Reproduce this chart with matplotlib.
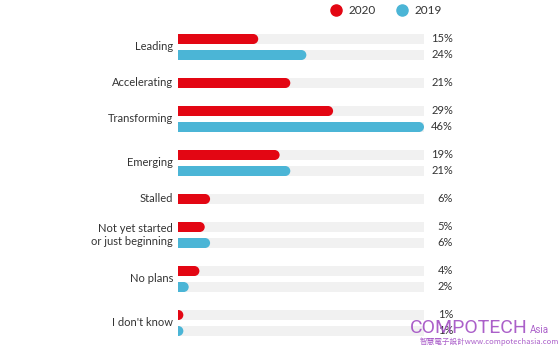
import matplotlib.pyplot as plt
from matplotlib.lines import Line2D
from matplotlib.patches import Ellipse

# data
categories = ['Leading', 'Accelerating', 'Transforming', 'Emerging', 'Stalled',
              'Not yet started\nor just beginning', 'No plans', "I don't know"]
vals_2020 = [15, 21, 29, 19, 6, 5, 4, 1]
vals_2019 = [24, None, 46, 21, None, 6, 2, 1]

RED = '#e30613'
BLUE = '#4bb5d6'
TRACK = '#f1f1f1'
TEXT = '#333333'
XMAX = 46

plt.rcParams['font.family'] = ['Lato', 'DejaVu Sans']

fig = plt.figure(figsize=(5.6, 3.5), dpi=100)
# axes covers the bar track; y in pixel units (top = 0)
ax = fig.add_axes([178 / 560, 0, 246 / 560, 1])
ax.set_xlim(0, XMAX)
ax.set_ylim(350, 0)
ax.axis('off')

px = XMAX / 246.0      # data units per pixel horizontally
H = 10                 # bar thickness in px
cap = H / 2 * px       # round end radius in data units

y = 39
for cat, v20, v19 in zip(categories, vals_2020, vals_2019):
    rows = [(v20, RED)]
    if v19 is not None:
        rows.append((v19, BLUE))
    ys = []
    for v, col in rows:
        ax.barh(y, XMAX, height=H, left=0, color=TRACK, zorder=1)
        end = max(v - cap, 0)
        ax.barh(y, end, height=H, left=0, color=col, zorder=2)
        ax.add_patch(Ellipse((end, y), 2 * cap, H, color=col, zorder=2, lw=0))
        ax.text(XMAX + 29 * px, y, f'{v}%', ha='right', va='center',
                fontsize=8, color=TEXT, clip_on=False)
        ys.append(y)
        y += 16
    ax.text(-5 * px, sum(ys) / len(ys), cat, ha='right', va='center', fontsize=8,
            color=TEXT, linespacing=1.15, clip_on=False)
    y += 12

# legend
handles = [Line2D([], [], marker='o', ls='', color=RED, markersize=8, label='2020'),
           Line2D([], [], marker='o', ls='', color=BLUE, markersize=8, label='2019')]
fig.legend(handles=handles, loc='center', bbox_to_anchor=(383 / 560, 1 - 11 / 350), ncol=2,
           frameon=False, fontsize=8.5, handletextpad=0.1, columnspacing=1.2,
           labelcolor=TEXT)

# watermark
WM = '#a24fc4'
fig.text(528 / 560, 1 - 333 / 350, 'COMPOTECH', color=WM, fontsize=14,
         family=['Roboto', 'DejaVu Sans'], ha='right', va='baseline', alpha=0.9)
fig.text(530 / 560, 1 - 333 / 350, 'Asia', color=WM, fontsize=7,
         family=['Roboto', 'DejaVu Sans'], ha='left', va='baseline', alpha=0.9)
fig.text(420 / 560, 1 - 342 / 350, '智慧電子設計www.compotechasia.com', color=WM,
         fontsize=5.5, family=['Noto Sans CJK TC', 'DejaVu Sans'], ha='left', va='center',
         alpha=0.9)

fig.savefig('out.png', dpi=100)
